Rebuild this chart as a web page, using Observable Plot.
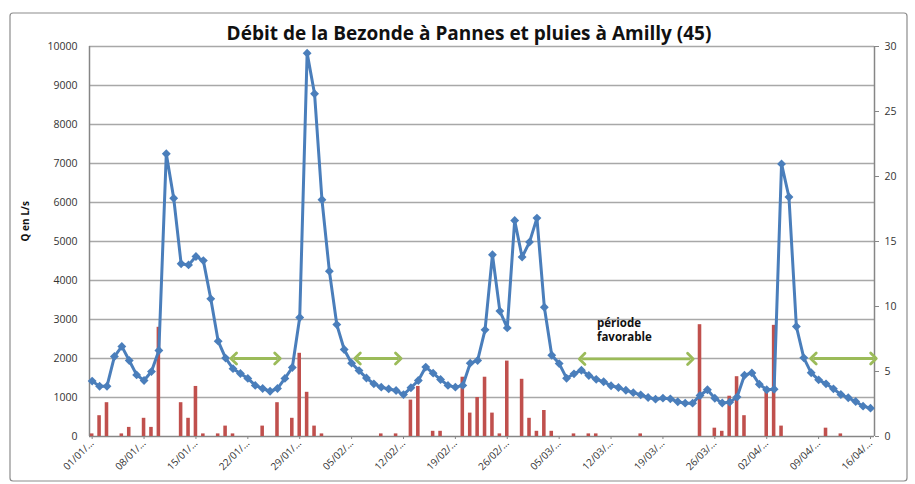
<!DOCTYPE html>
<html>
<head>
<meta charset="utf-8">
<script src="https://cdn.jsdelivr.net/npm/d3@7"></script>
<script src="https://cdn.jsdelivr.net/npm/@observablehq/plot@0.6"></script>
<style>
  html, body { margin: 0; padding: 0; background: #fff; }
  #chart { width: 915px; height: 484px; }
</style>
</head>
<body>
<div id="chart"></div>
<script>
// Daily series from 01/01 to 16/04 (index 0 = 01/01)
const flow = [
  1420, 1290, 1290, 2050, 2310, 1950, 1580, 1435, 1665, 2205,
  7250, 6110, 4430, 4400, 4615, 4510, 3530, 2445, 2010, 1740,
  1615, 1490, 1310, 1230, 1160, 1230, 1490, 1770, 3050, 9830,
  8790, 6070, 4240, 2870, 2230, 1880, 1690, 1500, 1350, 1265,
  1220, 1180, 1075, 1250, 1435, 1780, 1625, 1460, 1310, 1265,
  1310, 1880, 1950, 2735, 4660, 3215, 2785, 5540, 4600, 4985,
  5600, 3315, 2085, 1870, 1495, 1607, 1700, 1565, 1465, 1405,
  1300, 1255, 1185, 1125, 1068, 1000, 958, 983, 965, 890,
  855, 855, 1050, 1200, 980, 860, 880, 1010, 1570, 1630,
  1340, 1200, 1210, 6990, 6140, 2820, 2017, 1633, 1453, 1350,
  1222, 1077, 992, 897, 778, 727
];
const rain = [
  0.2, 1.6, 2.6, 0, 0.2, 0.7, 0, 1.4, 0.7, 8.4,
  0, 0, 2.6, 1.4, 3.85, 0.2, 0, 0.2, 0.8, 0.2,
  0, 0, 0, 0.8, 0, 2.6, 0, 1.4, 6.4, 3.4,
  0.8, 0.2, 0, 0, 0, 0, 0, 0, 0, 0.2,
  0, 0.2, 0, 2.8, 3.85, 0, 0.4, 0.4, 0, 0,
  4.56, 1.8, 3.0, 4.56, 1.8, 0.2, 5.8, 0, 4.4, 1.4,
  0.4, 2.0, 0.4, 0, 0, 0.2, 0, 0.2, 0.2, 0,
  0, 0, 0, 0, 0.2, 0, 0, 0, 0, 0,
  0, 0, 8.6, 0, 0.64, 0.4, 3.1, 4.6, 1.6, 0,
  0, 3.6, 8.55, 0.8, 0, 0, 0, 0, 0, 0.64,
  0, 0.2, 0, 0, 0, 0
];
const tickLabels = ["01/01/...", "08/01/...", "15/01/...", "22/01/...", "29/01/...", "05/02/...",
  "12/02/...", "19/02/...", "26/02/...", "05/03/...", "12/03/...", "19/03/...", "26/03/...",
  "02/04/...", "09/04/...", "16/04/..."];
const tickDays = [0, 7, 14, 21, 28, 35, 42, 49, 56, 63, 70, 77, 84, 91, 98, 105];
const flowTicks = [0, 1000, 2000, 3000, 4000, 5000, 6000, 7000, 8000, 9000, 10000];
const rainTicks = [0, 5, 10, 15, 20, 25, 30];
// "période favorable" arrows (start day, end day) at flow level
const arrows = [
  {a: 19.1, b: 25.0, q: 2000},
  {a: 35.8, b: 41.3, q: 2000},
  {a: 66.1, b: 80.7, q: 1990},
  {a: 97.3, b: 105.4, q: 2000}
];
const title = "Débit de la Bezonde à Pannes et pluies à Amilly (45)";
const yLabel = "Q en L/s";
const note = "période\nfavorable";

const FLOW_MAX = 10000, RAIN_MAX = 30;
const k = FLOW_MAX / RAIN_MAX;
const data = flow.map((q, i) => ({i, q, r: rain[i]}));
const rainData = data.filter(d => d.r > 0);

const blue = "#4a7ebb", red = "#c0504d", green = "#9bbb59";
const font = "'Open Sans', 'DejaVu Sans', sans-serif";

const chart = Plot.plot({
  width: 915,
  height: 484,
  marginLeft: 89,
  marginRight: 41,
  marginTop: 46,
  marginBottom: 48,
  style: {fontFamily: font, color: "#333", background: "#fff", overflow: "visible"},
  x: {domain: [-0.36, 105.54], axis: null},
  y: {domain: [0, FLOW_MAX], axis: null},
  marks: [
    Plot.gridY(flowTicks.filter(v => v > 0), {stroke: "#a8a8a8", strokeOpacity: 1, strokeWidth: 1.3}),
    Plot.axisY(flowTicks, {anchor: "left", tickSize: 0, tickPadding: 12, fontSize: 10.5, tickFormat: d => String(d), label: null}),
    Plot.axisY(rainTicks.map(v => v * k), {anchor: "right", tickSize: 4, tickPadding: 6, fontSize: 10.5,
      stroke: "#868686", tickFormat: d => String(Math.round(d / k)), label: null}),
    Plot.axisX(tickDays, {anchor: "bottom", tickSize: 3, tickPadding: 2, tickRotate: -45, fontSize: 10,
      stroke: "#868686", tickFormat: (d, j) => tickLabels[j], label: null}),
    Plot.ruleX([-0.36], {stroke: "#868686", strokeWidth: 1.5}),
    Plot.ruleX([105.54], {stroke: "#868686", strokeWidth: 1.5}),
    Plot.ruleY([0], {stroke: "#868686", strokeWidth: 1.5}),
    Plot.rectY(rainData, {x1: d => d.i - 0.24, x2: d => d.i + 0.24, y1: 0, y2: d => d.r * k, fill: red}),
    Plot.line(data, {x: "i", y: "q", stroke: blue, strokeWidth: 3, strokeLinejoin: "round"}),
    Plot.dot(data, {x: "i", y: "q", symbol: "diamond2", r: 4, fill: blue, stroke: null}),
    Plot.link(arrows, {x1: "a", x2: "b", y1: "q", y2: "q", stroke: green, strokeWidth: 2.8,
      markerStart: "arrow-reverse", markerEnd: "arrow"}),
    Plot.text([note], {x: 68.1, y: 2745, text: d => d, textAnchor: "start", lineAnchor: "middle",
      lineHeight: 1.25, fontSize: 11.5, fontWeight: "bold", fill: "#111"}),
    Plot.text([title], {frameAnchor: "top", dx: -13, dy: -13, lineAnchor: "middle", text: d => d,
      fontSize: 19, fontWeight: "bold", fill: "#111"}),
    Plot.text([yLabel], {frameAnchor: "left", dx: -64, rotate: -90, text: d => d,
      fontSize: 10, fontWeight: "bold", fill: "#111"})
  ]
});

// outer chart border
d3.select(chart).insert("rect", ":first-child")
  .attr("x", 10).attr("y", 13).attr("width", 897).attr("height", 468)
  .attr("rx", 3).attr("fill", "none").attr("stroke", "#8c8c8c").attr("stroke-width", 1.2);

document.getElementById("chart").appendChild(chart);
</script>
</body>
</html>
